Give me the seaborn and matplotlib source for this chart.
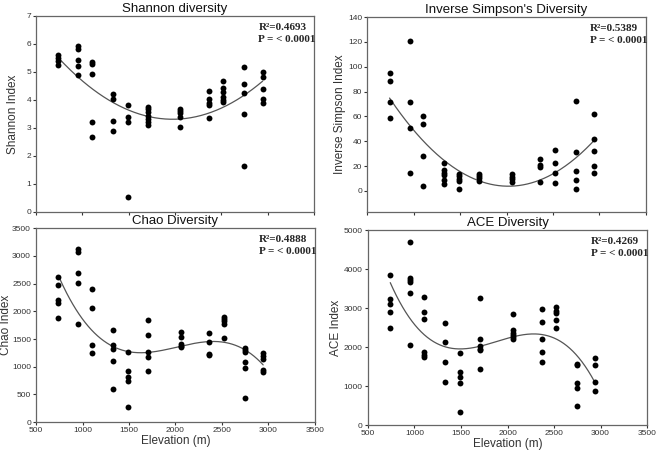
import numpy as np
import pandas as pd
import matplotlib
matplotlib.use("Agg")
import matplotlib.pyplot as plt
import seaborn as sns

# site elevations (m)
elevation = [740, 955, 1100, 1325, 1490, 1705, 2055, 2365, 2520, 2745, 2945]

shannon = [
    [5.60, 5.48, 5.37, 5.23],
    [5.91, 5.81, 5.42, 5.22, 4.88],
    [5.35, 5.28, 4.93, 3.21, 2.67],
    [4.21, 4.04, 3.26, 2.90],
    [3.82, 3.38, 3.22, 0.52],
    [3.75, 3.67, 3.56, 3.43, 3.32, 3.21, 3.12],
    [3.69, 3.61, 3.52, 3.40, 3.03],
    [4.30, 4.04, 3.88, 3.80, 3.37],
    [4.67, 4.42, 4.29, 4.10, 4.00, 3.92],
    [5.16, 4.55, 4.23, 3.49, 1.65],
    [5.01, 4.83, 4.38, 4.02, 3.88],
]
inv_simpson = [
    [94.9, 88.5, 71.6, 58.5],
    [120.7, 71.6, 50.7, 14.2],
    [60.3, 53.7, 28.5, 4.0],
    [22.3, 17.2, 14.8, 12.4, 8.6, 5.4],
    [13.7, 11.8, 9.7, 8.0, 1.4],
    [13.7, 12.0, 10.0, 8.0],
    [13.4, 11.3, 9.4, 7.5],
    [26.0, 21.2, 19.3, 7.0],
    [32.7, 22.8, 14.8, 6.2],
    [72.4, 31.1, 16.4, 8.8, 1.9],
    [61.7, 41.8, 32.5, 20.4, 14.0],
]
chao = [
    [2612, 2480, 2210, 2156, 1873],
    [3123, 3069, 2691, 2511, 1778],
    [2408, 2054, 1387, 1243],
    [1664, 1400, 1322, 1111, 594],
    [1273, 919, 811, 739, 270],
    [1837, 1567, 1268, 1178, 931],
    [1628, 1544, 1417, 1381, 1351],
    [1610, 1454, 1232, 1214],
    [1898, 1862, 1819, 1778, 1526],
    [1340, 1304, 1273, 1088, 980, 427],
    [1255, 1201, 1142, 937, 913],
]
ace = [
    [3852, 3231, 3112, 2900, 2482],
    [4686, 3767, 3724, 3673, 3375, 2048],
    [3291, 2908, 2722, 1870, 1811, 1760],
    [2610, 2125, 1615, 1105],
    [1854, 1360, 1224, 1079, 339],
    [3257, 2219, 2033, 1964, 1921, 1454],
    [2849, 2432, 2372, 2321, 2270, 2202],
    [2985, 2635, 2212, 1880, 1633],
    [3018, 2934, 2865, 2686, 2492],
    [1564, 1531, 1079, 944, 492],
    [1727, 1556, 1105, 875],
]

titles = ["Shannon diversity", "Inverse Simpson's Diversity", "Chao Diversity", "ACE Diversity"]
ylabels = ["Shannon Index", "Inverse Simpson Index", "Chao Index", "ACE Index"]
r2_text = ["R²=0.4693", "R²=0.5389", "R²=0.4888", "R²=0.4269"]
fit_degree = [2, 2, 3, 3]
panel_data = [shannon, inv_simpson, chao, ace]


def to_frame(values):
    xs, ys = [], []
    for e, col in zip(elevation, values):
        xs += [e] * len(col)
        ys += col
    return pd.DataFrame({"Elevation": xs, "Index": ys})


sns.set_style("ticks")
plt.rcParams["font.family"] = ["Liberation Sans", "DejaVu Sans"]

fig = plt.figure(figsize=(6.57, 4.51), dpi=100)
positions = [
    [0.055, 0.530, 0.423, 0.435],
    [0.559, 0.530, 0.424, 0.432],
    [0.055, 0.064, 0.424, 0.430],
    [0.560, 0.057, 0.425, 0.433],
]
ylabel_x = [-0.063, -0.077, -0.086, -0.094]
ylims = [(0, 7), (-17, 140), (0, 3500), (0, 5000)]
yticks = [np.arange(0, 8, 1), np.arange(0, 141, 20),
          np.arange(0, 3501, 500), np.arange(0, 5001, 1000)]
serif = ["Liberation Serif", "DejaVu Serif"]

for i in range(4):
    ax = fig.add_axes(positions[i])
    df = to_frame(panel_data[i])
    sns.scatterplot(data=df, x="Elevation", y="Index", ax=ax, color="black",
                    s=18, edgecolor="black", linewidth=0, legend=False, zorder=3)
    coef = np.polyfit(df["Elevation"], df["Index"], fit_degree[i])
    xf = np.linspace(min(elevation), max(elevation), 200)
    sns.lineplot(x=xf, y=np.polyval(coef, xf), ax=ax, color="#555555", lw=0.9, zorder=2)

    ax.set_xlim(500, 3500)
    ax.set_xticks(np.arange(500, 3501, 500))
    ax.set_ylim(*ylims[i])
    ax.set_yticks(yticks[i])
    ax.tick_params(labelsize=6, length=2.5, width=0.8, colors="#333333", pad=1.2)
    for sp in ax.spines.values():
        sp.set_color("#666666")
        sp.set_linewidth(0.9)
    ax.set_ylabel(ylabels[i], fontsize=8.5, color="#333333")
    ax.yaxis.set_label_coords(ylabel_x[i], 0.5)
    ax.set_title(titles[i], fontsize=9.5, pad=3, color="#111111")
    if i < 2:
        ax.set_xticklabels([])
        ax.set_xlabel("")
    else:
        ax.set_xlabel("Elevation (m)", fontsize=8.5, color="#333333", labelpad=0.5)
    ax.text(0.80, 0.94, r2_text[i], transform=ax.transAxes, fontsize=8,
            family=serif, weight="bold", va="center")
    ax.text(0.80, 0.88, "P = < 0.0001", transform=ax.transAxes, fontsize=8,
            family=serif, weight="bold", va="center")

fig.savefig("out.png", dpi=100)
